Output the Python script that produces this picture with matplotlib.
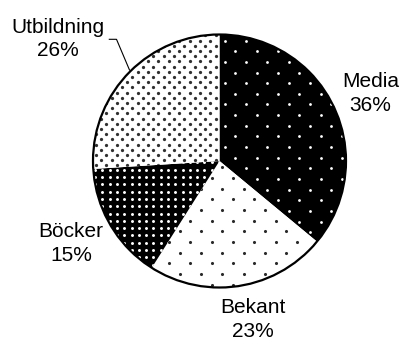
import numpy as np
import matplotlib
matplotlib.use('Agg')
import matplotlib.pyplot as plt
from matplotlib.patches import Circle

plt.rcParams['font.family'] = ['Liberation Sans', 'DejaVu Sans']

# survey shares, clockwise from twelve o'clock
labels = ['Media', 'Bekant', 'Böcker', 'Utbildning']
shares = [36, 23, 15, 26]

# fill and dot style per slice
faces = ['black', 'white', 'black', 'white']
dot_colors = ['white', '#2a2a2a', 'white', '#303030']
dot_periods = [21.3, 21.3, 7.3, 10.4]
dot_stagger = [True, True, False, True]
dot_sizes = [4.0, 5.0, 4.5, 5.5]

W, H = 403, 341
cx, cy, r = 219.5, H - 161.0, 126.5


def dot_lattice(period, stagger, x0, y0):
    # dot grid covering the pie area; staggered grids use rows at half the period
    step = period / 2 if stagger else period
    pts = []
    ys = np.arange(cy - r - step, cy + r + step, step)
    for i, y in enumerate(ys):
        shift = step if (stagger and i % 2) else 0
        xs = np.arange(cx - r - period, cx + r + period, period) + shift + x0
        pts.append(np.column_stack([xs, np.full_like(xs, y + y0)]))
    return np.vstack(pts)


fig = plt.figure(figsize=(W / 100, H / 100), dpi=100)
ax = fig.add_axes([0, 0, 1, 1])

wedges, _ = ax.pie(shares, startangle=90, counterclock=False,
                   center=(cx, cy), radius=r, colors=faces,
                   wedgeprops=dict(linewidth=0))

phases = [(4.0, 2.0), (1.5, 3.0), (2.0, 1.0), (3.0, 2.5)]
for w, col, per, stg, sz, (px, py) in zip(wedges, dot_colors, dot_periods,
                                          dot_stagger, dot_sizes, phases):
    pts = dot_lattice(per, stg, px, py)
    sc = ax.scatter(pts[:, 0], pts[:, 1], s=sz, c=col, marker='o',
                    linewidths=0, zorder=3)
    sc.set_clip_path(w)

# outer rim
ax.add_patch(Circle((cx, cy), r, fill=False, ec='black', lw=1.6, zorder=4))

# slice labels
label_pos = {
    'Media': (370.5, 93.5),
    'Bekant': (253.0, 319.5),
    'Böcker': (71.0, 243.5),
    'Utbildning': (58.0, 39.0),
}
for lab, val in zip(labels, shares):
    x, y = label_pos[lab]
    ax.text(x, H - y, f'{lab}\n{val}%', ha='center', va='center',
            fontsize=15, linespacing=1.3, color='black')

# leader line for the upper-left label
ax.plot([109.3, 116.5, 129.5], [H - 39.3, H - 39.3, H - 70.0],
        color='black', lw=0.8, zorder=5)

ax.set_xlim(0, W)
ax.set_ylim(0, H)
ax.set_aspect('auto')
ax.axis('off')

fig.savefig('out.png', dpi=100, facecolor='white')
